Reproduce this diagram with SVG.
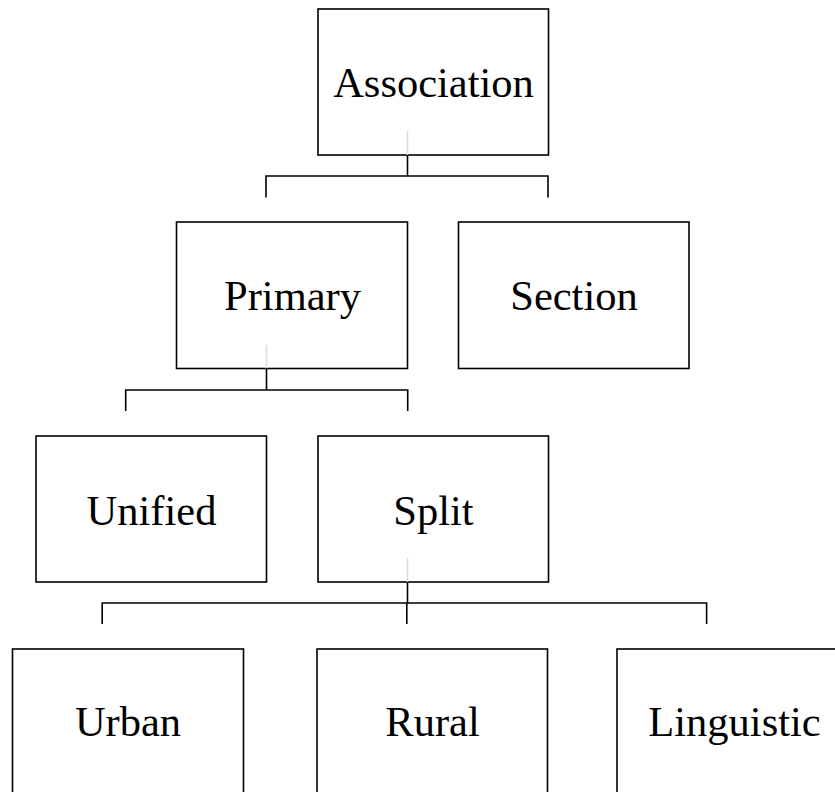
<svg xmlns="http://www.w3.org/2000/svg" width="835" height="792" viewBox="0 0 835 792">
<style>
.box{fill:#fff;stroke:#000;stroke-width:1.6}
.t{font-family:"Liberation Serif","Times New Roman",serif;font-size:42.5px;fill:#000;text-anchor:middle}
.c{fill:none;stroke:#000;stroke-width:1.6}
.g{fill:none;stroke:#ddd;stroke-width:1.6}
</style>
<rect width="835" height="792" fill="#fff"/>
<g id="association"><rect class="box" x="318" y="9" width="230.5" height="146"/><text class="t" x="433.5" y="97">Association</text></g>
<g id="primary"><rect class="box" x="176.5" y="222" width="231" height="146.5"/><text class="t" x="292.5" y="310">Primary</text></g>
<g id="section"><rect class="box" x="458.5" y="222" width="230.5" height="146.5"/><text class="t" x="574" y="310">Section</text></g>
<g id="unified"><rect class="box" x="36" y="436" width="230.5" height="146"/><text class="t" x="151.5" y="524.5">Unified</text></g>
<g id="split"><rect class="box" x="318" y="436" width="230.5" height="146"/><text class="t" x="433.5" y="524.5">Split</text></g>
<g id="urban"><rect class="box" x="12.5" y="649" width="231" height="160"/><text class="t" x="128" y="736">Urban</text></g>
<g id="rural"><rect class="box" x="317" y="649" width="230.5" height="160"/><text class="t" x="432.5" y="736">Rural</text></g>
<g id="linguistic"><rect class="box" x="617" y="649" width="231" height="160"/><text class="t" x="734.5" y="736">Linguistic</text></g>
<g id="connectors">
<path class="g" d="M407.5 131V155M266.5 345V368.5M407.5 558V582"/>
<path class="c" d="M407.5 155V176M266 176H548M266 175.2V197.5M548 175.2V197.5"/>
<path class="c" d="M266.5 368.5V390M125.7 390H407.7M125.7 389.2V411M407.7 389.2V411"/>
<path class="c" d="M407.5 582V603M102.2 603H706.6M102.2 602.2V624M406.8 603V624M706.6 602.2V624"/>
</g>
</svg>
